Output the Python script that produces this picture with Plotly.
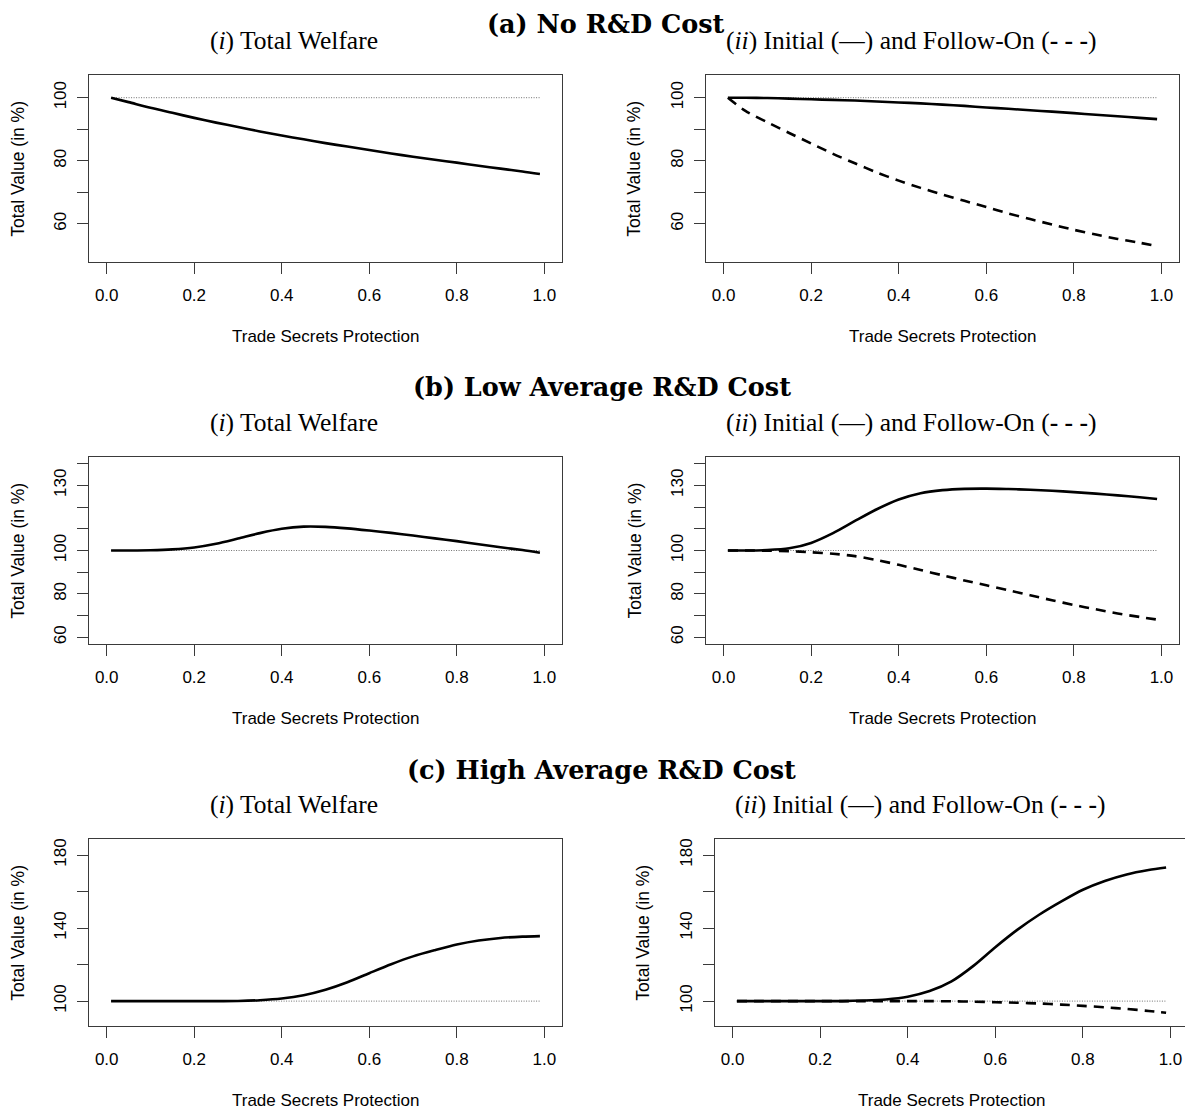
import plotly.graph_objects as go

W, H = 1193, 1113
OFF = 8  # page body margin in the browser

# ---------------- data ----------------
x_grid = [0.01, 0.05, 0.10, 0.15, 0.20, 0.25, 0.30, 0.35, 0.40, 0.45, 0.50,
          0.55, 0.60, 0.65, 0.70, 0.75, 0.80, 0.85, 0.90, 0.95, 0.99]

a_welfare = [100.0, 98.6, 96.8, 95.2, 93.6, 92.1, 90.7, 89.3, 88.0, 86.8, 85.6,
             84.5, 83.4, 82.3, 81.3, 80.3, 79.4, 78.4, 77.5, 76.6, 75.8]
a_initial = [100.0, 100.0, 99.9, 99.7, 99.5, 99.3, 99.1, 98.8, 98.5, 98.2, 97.8,
             97.4, 96.9, 96.5, 96.0, 95.6, 95.1, 94.6, 94.1, 93.6, 93.2]
a_follow = [100.0, 95.8, 92.2, 88.8, 85.5, 82.2, 79.2, 76.3, 73.7, 71.4, 69.3,
            67.3, 65.3, 63.3, 61.5, 59.8, 58.1, 56.6, 55.2, 54.0, 52.9]

b_welfare = [100.0, 100.0, 100.1, 100.5, 101.4, 103.1, 105.5, 108.0, 110.0, 111.0, 110.9,
             110.2, 109.2, 108.1, 106.9, 105.6, 104.3, 102.9, 101.5, 100.2, 99.0]
b_initial = [100.0, 100.0, 100.2, 101.0, 103.5, 108.0, 113.6, 119.0, 123.5, 126.4, 127.8,
             128.4, 128.5, 128.3, 128.0, 127.5, 126.9, 126.2, 125.4, 124.5, 123.7]
b_follow = [100.0, 100.0, 99.9, 99.7, 99.2, 98.5, 97.4, 95.6, 93.4, 91.0, 88.6,
            86.2, 84.0, 81.7, 79.4, 77.1, 74.9, 72.9, 71.0, 69.4, 68.2]

c_welfare = [100.0, 100.0, 100.0, 100.0, 100.0, 100.0, 100.1, 100.5, 101.4, 103.2, 106.2,
             110.3, 115.3, 120.2, 124.5, 127.9, 131.0, 133.2, 134.6, 135.3, 135.6]
c_initial = [100.0, 100.0, 100.0, 100.0, 100.0, 100.0, 100.3, 100.9, 102.4, 105.5, 110.8,
             119.3, 129.5, 139.0, 147.3, 154.5, 161.0, 165.8, 169.4, 171.8, 173.2]
c_follow = [100.0, 100.0, 100.0, 100.0, 100.0, 100.0, 100.0, 100.0, 100.0, 100.0, 99.9,
            99.7, 99.4, 99.1, 98.7, 98.1, 97.4, 96.6, 95.7, 94.6, 93.6]

baseline = 100
x_ticks = [0.0, 0.2, 0.4, 0.6, 0.8, 1.0]
x_ticktext = ["0.0", "0.2", "0.4", "0.6", "0.8", "1.0"]

a_yticks = [60, 70, 80, 90, 100]
a_yticktext = ["60", "", "80", "", "100"]
b_yticks = [60, 70, 80, 90, 100, 110, 120, 130, 140]
b_yticktext = ["60", "", "80", "", "100", "", "", "130", ""]
c_yticks = [100, 120, 140, 160, 180]
c_yticktext = ["100", "", "140", "", "180"]

row_titles = ["(a) No R&D Cost", "(b) Low Average R&D Cost", "(c) High Average R&D Cost"]
left_title = "(<i>i</i>) Total Welfare"
right_title = "(<i>ii</i>) Initial (\u2014) and Follow-On (<b>- - -</b>)"
x_title = "Trade Secrets Protection"
y_title = "Total Value (in %)"

# ---------------- layout geometry (pixels in the page) ----------------
rows = [
    dict(top=75.0, bot=262.3, yr=[47.8, 107.2], yt=a_yticks, ytt=a_yticktext,
         left=(89.2, 561.8), right=(706.0, 1179.0),
         series=(a_welfare, a_initial, a_follow), title_y=13, title_x=606, sub_y=40.7),
    dict(top=456.7, bot=644.3, yr=[56.8, 143.2], yt=b_yticks, ytt=b_yticktext,
         left=(89.2, 561.8), right=(706.0, 1179.0),
         series=(b_welfare, b_initial, b_follow), title_y=387, title_x=602, sub_y=422.3),
    dict(top=839.0, bot=1026.3, yr=[86.2, 188.8], yt=c_yticks, ytt=c_yticktext,
         left=(89.2, 561.8), right=(715.0, 1188.0),
         series=(c_welfare, c_initial, c_follow), title_y=770, title_x=601, sub_y=804),
]


def px_x(p):
    return (p - OFF) / W


def px_y(p):
    return 1 - (p - OFF) / H


SANS = "Liberation Sans, Arial, sans-serif"
fig = go.Figure()
layout = dict(
    width=W, height=H, margin=dict(l=0, r=0, t=0, b=0),
    paper_bgcolor="white", plot_bgcolor="white", showlegend=False,
    font=dict(family=SANS, size=17, color="black"),
)
annotations = []

AXIS_COLOR = "#3a3a3a"
LINE_W = 2.6

idx = 0
for ri, r in enumerate(rows):
    for side in ("left", "right"):
        idx += 1
        xa = "x" if idx == 1 else f"x{idx}"
        ya = "y" if idx == 1 else f"y{idx}"
        xk = "xaxis" if idx == 1 else f"xaxis{idx}"
        yk = "yaxis" if idx == 1 else f"yaxis{idx}"
        x0, x1 = r[side]
        layout[xk] = dict(
            domain=[px_x(x0), px_x(x1)], range=[-0.04, 1.04], anchor=ya,
            tickmode="array", tickvals=x_ticks, ticktext=x_ticktext,
            ticks="outside", ticklen=11, tickwidth=1.1, tickcolor=AXIS_COLOR,
            showline=True, linecolor=AXIS_COLOR, linewidth=1.3, mirror=True,
            showgrid=False, zeroline=False, ticklabelstandoff=6,
            tickfont=dict(size=17, family=SANS),
        )
        layout[yk] = dict(
            domain=[px_y(r["bot"]), px_y(r["top"])], range=r["yr"], anchor=xa,
            tickmode="array", tickvals=r["yt"], ticktext=r["ytt"], tickangle=-90,
            ticks="outside", ticklen=11, tickwidth=1.1, tickcolor=AXIS_COLOR,
            showline=True, linecolor=AXIS_COLOR, linewidth=1.3, mirror=True,
            showgrid=False, zeroline=False, ticklabelstandoff=4,
            tickfont=dict(size=17, family=SANS),
        )
        # reference dotted line
        fig.add_trace(go.Scatter(
            x=[x_grid[0], x_grid[-1]], y=[baseline, baseline], mode="lines",
            line=dict(color="#707070", width=1, dash="1px,1.5px"),
            xaxis=xa, yaxis=ya, hoverinfo="skip"))
        if side == "left":
            fig.add_trace(go.Scatter(
                x=x_grid, y=r["series"][0], mode="lines",
                line=dict(color="black", width=LINE_W, shape="spline", smoothing=0.8),
                xaxis=xa, yaxis=ya))
        else:
            fig.add_trace(go.Scatter(
                x=x_grid, y=r["series"][2], mode="lines",
                line=dict(color="black", width=LINE_W, dash="10px,7px",
                          shape="spline", smoothing=0.8),
                xaxis=xa, yaxis=ya))
            fig.add_trace(go.Scatter(
                x=x_grid, y=r["series"][1], mode="lines",
                line=dict(color="black", width=LINE_W, shape="spline", smoothing=0.8),
                xaxis=xa, yaxis=ya))

        # axis titles
        annotations.append(dict(
            x=px_x((x0 + x1) / 2), y=px_y(r["bot"] + 74.5), xref="paper", yref="paper",
            text=x_title, showarrow=False, xanchor="center", yanchor="middle",
            font=dict(size=17, family=SANS)))
        annotations.append(dict(
            x=px_x(x0 - 72), y=px_y((r["top"] + r["bot"]) / 2), xref="paper", yref="paper",
            text=y_title, showarrow=False, textangle=-90, xanchor="center", yanchor="middle",
            font=dict(size=17.5, family=SANS)))
        # panel subtitles
        annotations.append(dict(
            x=px_x((x0 + x1) / 2 - 31.5), y=px_y(r["sub_y"]), xref="paper", yref="paper",
            text=left_title if side == "left" else right_title, showarrow=False,
            xanchor="center", yanchor="middle",
            font=dict(size=25.5, family="Liberation Serif, Times New Roman, serif")))
    # row title (first one is pinned to the top edge of the figure)
    if ri == 0:
        ty, tanchor = 1.0, "top"
    else:
        ty, tanchor = px_y(r["title_y"]), "middle"
    annotations.append(dict(
        x=px_x(r["title_x"]), y=ty, xref="paper", yref="paper",
        text="<b>" + row_titles[ri] + "</b>", showarrow=False,
        xanchor="center", yanchor=tanchor, borderpad=0,
        font=dict(size=25.5, family="DejaVu Serif, serif")))

layout["annotations"] = annotations
fig.update_layout(**layout)
fig.write_html("out.html")
